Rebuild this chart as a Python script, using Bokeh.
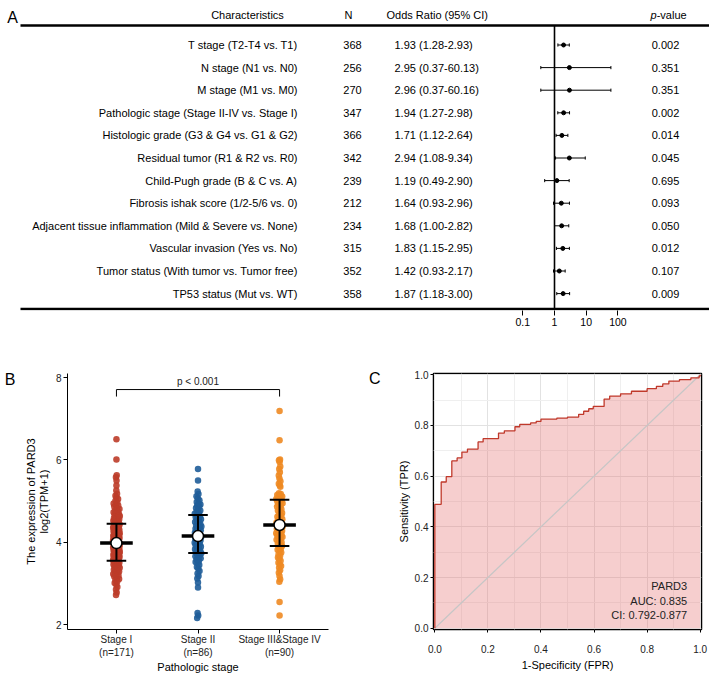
from bokeh.plotting import figure
from bokeh.models import (Range1d, LogScale, LogAxis, LinearAxis, FixedTicker,
                          NumeralTickFormatter)
from bokeh.layouts import column, row
from bokeh.embed import file_html
from bokeh.resources import INLINE
from bokeh.core.properties import value

FONT = "Liberation Sans"
FV = value(FONT)

# ---------------- Panel A data ----------------
characteristics = [
    "T stage (T2-T4 vs. T1)",
    "N stage (N1 vs. N0)",
    "M stage (M1 vs. M0)",
    "Pathologic stage (Stage II-IV vs. Stage I)",
    "Histologic grade (G3 & G4 vs. G1 & G2)",
    "Residual tumor (R1 & R2 vs. R0)",
    "Child-Pugh grade (B & C vs. A)",
    "Fibrosis ishak score (1/2-5/6 vs. 0)",
    "Adjacent tissue inflammation (Mild & Severe vs. None)",
    "Vascular invasion (Yes vs. No)",
    "Tumor status (With tumor vs. Tumor free)",
    "TP53 status (Mut vs. WT)",
]
n_values = [368, 256, 270, 347, 366, 342, 239, 212, 234, 315, 352, 358]
or_est = [1.93, 2.95, 2.96, 1.94, 1.71, 2.94, 1.19, 1.64, 1.68, 1.83, 1.42, 1.87]
or_low = [1.28, 0.37, 0.37, 1.27, 1.12, 1.08, 0.49, 0.93, 1.00, 1.15, 0.93, 1.18]
or_high = [2.93, 60.13, 60.16, 2.98, 2.64, 9.34, 2.90, 2.96, 2.82, 2.95, 2.17, 3.00]
p_values = ["0.002", "0.351", "0.351", "0.002", "0.014", "0.045",
            "0.695", "0.093", "0.050", "0.012", "0.107", "0.009"]
or_ticks = [0.1, 1, 10, 100]

# ---------------- Panel B data ----------------
group_names = ["Stage I", "Stage II", "Stage III&Stage IV"]
group_n = [171, 86, 90]
stage1 = [
    2.72, 2.78, 2.85, 2.91,
    2.97, 3.01, 3.05, 3.08, 3.11, 3.14, 3.17, 3.19,
    3.21, 3.23, 3.25, 3.27, 3.29, 3.31, 3.33, 3.35, 3.36, 3.38, 3.40, 3.41, 3.43, 3.44,
    3.46, 3.47, 3.48, 3.50, 3.51, 3.52, 3.53, 3.55, 3.56, 3.57, 3.58, 3.59, 3.60, 3.62,
    3.63, 3.64, 3.65, 3.66, 3.67, 3.68, 3.69, 3.69,
    3.70, 3.71, 3.72, 3.73, 3.73, 3.74, 3.75, 3.76, 3.77, 3.78, 3.78, 3.79, 3.80, 3.81,
    3.82, 3.83, 3.83, 3.84, 3.85, 3.86, 3.87, 3.88, 3.88, 3.89, 3.90, 3.91, 3.92, 3.93,
    3.93, 3.94,
    3.95, 3.96, 3.97, 3.98, 3.98, 3.99, 4.00, 4.01, 4.02, 4.03, 4.03, 4.04, 4.05, 4.06,
    4.07, 4.08, 4.08, 4.09, 4.10, 4.11, 4.12, 4.13, 4.13, 4.14, 4.15, 4.16, 4.17, 4.18,
    4.18, 4.19,
    4.20, 4.21, 4.22, 4.23, 4.24, 4.25, 4.26, 4.27, 4.28, 4.29, 4.30, 4.31, 4.32, 4.33,
    4.34, 4.35, 4.36, 4.37, 4.38, 4.39, 4.40, 4.41, 4.42, 4.44,
    4.46, 4.47, 4.49, 4.50, 4.52, 4.53, 4.55, 4.56, 4.58, 4.59, 4.61, 4.62, 4.64, 4.65,
    4.67, 4.69,
    4.71, 4.73, 4.76, 4.78, 4.81, 4.84, 4.86, 4.89, 4.91, 4.94,
    4.97, 5.01, 5.05, 5.09, 5.13, 5.18,
    5.26, 5.38, 5.50, 5.58, 5.63, 6.01, 6.50,
]
stage2 = [
    2.16, 2.22, 2.28, 2.90, 3.02,
    3.12, 3.18, 3.24, 3.30, 3.36, 3.40, 3.45, 3.49,
    3.52, 3.55, 3.58, 3.61, 3.63, 3.66, 3.68, 3.71, 3.73, 3.75, 3.77, 3.79,
    3.81, 3.83, 3.85, 3.87, 3.89, 3.91, 3.93, 3.95, 3.97, 3.99, 4.01, 4.03, 4.05, 4.06,
    4.08, 4.09,
    4.11, 4.13, 4.15, 4.17, 4.19, 4.21, 4.23, 4.25, 4.27, 4.29, 4.31, 4.33, 4.35, 4.36,
    4.38, 4.39,
    4.41, 4.44, 4.46, 4.49, 4.51, 4.54, 4.56, 4.59, 4.61, 4.64, 4.66, 4.69,
    4.71, 4.74, 4.77, 4.80, 4.83, 4.86, 4.89, 4.92, 4.95, 4.98,
    5.02, 5.07, 5.12, 5.17, 5.23, 5.50, 5.78,
]
stage3 = [
    2.22, 2.55,
    3.04, 3.10, 3.18, 3.26, 3.32, 3.38,
    3.42, 3.46, 3.50, 3.55, 3.59, 3.63, 3.67, 3.71, 3.75, 3.79,
    3.82, 3.85, 3.88, 3.91, 3.94, 3.97, 4.00, 4.03, 4.06, 4.09, 4.11, 4.13, 4.15, 4.17,
    4.19, 4.20,
    4.22, 4.24, 4.26, 4.28, 4.30, 4.32, 4.34, 4.36, 4.38, 4.40, 4.42, 4.44, 4.46, 4.48,
    4.51, 4.54, 4.56, 4.58,
    4.62, 4.65, 4.68, 4.71, 4.74, 4.77, 4.80, 4.83, 4.86, 4.89, 4.92, 4.95, 4.97, 4.99,
    5.01, 5.03, 5.05, 5.07, 5.09, 5.11, 5.13, 5.15, 5.17, 5.19,
    5.35, 5.38, 5.42, 5.48, 5.55, 5.62, 5.70, 5.78, 5.84,
    5.95, 5.99, 6.01, 6.48, 7.19,
]
group_means = [3.98, 4.15, 4.42]
group_sd_low = [3.55, 3.74, 3.91]
group_sd_high = [4.45, 4.66, 5.03]
group_colors = ["#BC3C29", "#1F5D99", "#EE8A22"]
p_label = "p < 0.001"

# ---------------- Panel C data ----------------
roc_fpr = [0.0, 0.0, 0.024, 0.043, 0.064, 0.084, 0.102, 0.123, 0.163, 0.182,
           0.240, 0.262, 0.302, 0.320, 0.361, 0.382, 0.400, 0.460, 0.500, 0.542,
           0.561, 0.580, 0.597, 0.638, 0.659, 0.700, 0.741, 0.800, 0.835, 0.859,
           0.882, 0.922, 0.965, 0.996, 1.0]
roc_tpr = [0.0, 0.489, 0.577, 0.598, 0.660, 0.672, 0.695, 0.707, 0.735, 0.748,
           0.770, 0.779, 0.795, 0.804, 0.810, 0.816, 0.825, 0.829, 0.833, 0.844,
           0.856, 0.866, 0.875, 0.904, 0.916, 0.925, 0.935, 0.945, 0.954, 0.964,
           0.975, 0.981, 0.988, 0.995, 1.0]
roc_text = ["PARD3", "AUC: 0.835", "CI: 0.792-0.877"]
unit_ticks = [0.0, 0.2, 0.4, 0.6, 0.8, 1.0]
unit_minor = [0.1, 0.3, 0.5, 0.7, 0.9]

# ======================= Panel A =======================
ROW0, ROWH = 44.5, 22.6          # pixel layout of the table rows


def ry(py):
    return (py - ROW0) / ROWH


rows = list(range(len(characteristics)))
pa = figure(width=709, height=330, x_range=Range1d(0, 709),
            y_range=Range1d(ry(310), ry(0)),
            x_axis_location=None, y_axis_location=None,
            output_backend="svg", toolbar_location=None,
            min_border_left=0, min_border_right=0, min_border_top=0,
            min_border_bottom=20, outline_line_color=None)
pa.grid.visible = False
pa.extra_x_ranges = {"or": Range1d(10 ** ((0 - 554) / 31.7), 10 ** ((709 - 554) / 31.7))}
pa.extra_x_scales = {"or": LogScale()}

txt = dict(text_font=FV, text_font_size="11px", text_color="black",
           text_baseline="middle")
HEAD_Y = ry(14)
TOP_Y = ry(25)
BOT_Y = ry(308.5)

pa.text(x=[12], y=[ry(16.5)], text=["A"], text_font=FV, text_font_size="16px",
        text_align="center", text_baseline="alphabetic", text_color="black")
pa.text(x=[247], y=[HEAD_Y], text=["Characteristics"], text_align="center", **txt)
pa.text(x=[348], y=[HEAD_Y], text=["N"], text_align="center", **txt)
pa.text(x=[386], y=[HEAD_Y], text=["Odds Ratio (95% CI)"], text_align="left", **txt)
pa.text(x=[650], y=[HEAD_Y], text=["p"], text_align="left", text_font_style="italic", **txt)
pa.text(x=[656.2], y=[HEAD_Y], text=["-value"], text_align="left", **txt)

pa.text(x=297, y=rows, text=characteristics, text_align="right", **txt)
pa.text(x=352, y=rows, text=[str(n) for n in n_values], text_align="center", **txt)
pa.text(x=394, y=rows,
        text=[f"{e:.2f} ({l:.2f}-{h:.2f})" for e, l, h in zip(or_est, or_low, or_high)],
        text_align="left", **txt)
pa.text(x=665, y=rows, text=p_values, text_align="center", **txt)

pa.segment(x0=[20, 20], x1=[709, 709], y0=[TOP_Y, BOT_Y], y1=[TOP_Y, BOT_Y],
           line_color="black", line_width=2.5)
pa.segment(x0=[1], x1=[1], y0=[TOP_Y], y1=[BOT_Y], x_range_name="or",
           line_color="black", line_width=1.6)
pa.segment(x0=or_low, x1=or_high, y0=rows, y1=rows, x_range_name="or",
           line_color="black", line_width=1)
cap = 0.07
pa.segment(x0=or_low, x1=or_low, y0=[r - cap for r in rows], y1=[r + cap for r in rows],
           x_range_name="or", line_color="black", line_width=1)
pa.segment(x0=or_high, x1=or_high, y0=[r - cap for r in rows], y1=[r + cap for r in rows],
           x_range_name="or", line_color="black", line_width=1)
pa.scatter(x=or_est, y=rows, x_range_name="or", marker="circle", size=4,
           color="black")

lax = LogAxis(x_range_name="or",
              ticker=FixedTicker(ticks=or_ticks, minor_ticks=[]),
              formatter=NumeralTickFormatter(format="0.[0]"),
              axis_line_color=None, major_tick_line_color="black",
              major_tick_out=5, major_tick_in=0, minor_tick_line_color=None,
              major_label_standoff=2, major_label_text_font=FONT,
              major_label_text_font_size="10.5px", major_label_text_color="black")
pa.add_layout(lax, "below")


def panel_letter(fig, letter, y_pos, standoff):
    """Panel letter drawn as the single label of an extra, line-less left axis."""
    ax = LinearAxis(ticker=FixedTicker(ticks=[y_pos], minor_ticks=[]),
                    major_label_overrides={y_pos: letter},
                    axis_line_color=None, major_tick_line_color=None,
                    minor_tick_line_color=None, major_label_standoff=standoff,
                    major_label_text_font=FONT, major_label_text_font_size="16px",
                    major_label_text_color="black")
    fig.add_layout(ax, "left")


# ======================= Panel B =======================
BOTTOM = 44
pb = figure(width=354, height=345, x_range=Range1d(0.4, 3.6), y_range=Range1d(1.88, 8.1),
            output_backend="svg", toolbar_location=None,
            min_border_left=67, min_border_right=26, min_border_top=43,
            min_border_bottom=BOTTOM, outline_line_color=None)
pb.grid.visible = False


def swarm_offsets(vals, max_half=0.042):
    offs = []
    for k, v in enumerate(vals):
        dens = sum(1 for w in vals if abs(w - v) < 0.12)
        half = max_half * min(1.0, (dens - 1) / 8.0)
        frac = (k * 0.6180339887) % 1.0
        offs.append((frac - 0.5) * 2 * half)
    return offs


for i, vals in enumerate([stage1, stage2, stage3]):
    cx = i + 1
    offs = swarm_offsets(vals)
    pb.scatter(x=[cx + o for o in offs], y=vals, size=6.5, marker="circle",
               fill_color=group_colors[i], line_color=None, fill_alpha=0.9)

cats = [1, 2, 3]
pb.segment(x0=cats, x1=cats, y0=group_sd_low, y1=group_sd_high,
           line_color="black", line_width=2)
pb.segment(x0=[c - 0.12 for c in cats], x1=[c + 0.12 for c in cats],
           y0=group_sd_low, y1=group_sd_low, line_color="black", line_width=2)
pb.segment(x0=[c - 0.12 for c in cats], x1=[c + 0.12 for c in cats],
           y0=group_sd_high, y1=group_sd_high, line_color="black", line_width=2)
pb.segment(x0=[c - 0.2 for c in cats], x1=[c + 0.2 for c in cats],
           y0=group_means, y1=group_means, line_color="black", line_width=3.5)
pb.scatter(x=cats, y=group_means, size=11, marker="circle", fill_color="white",
           line_color="black", line_width=1.5)

# significance bracket
BR_Y, BR_DROP = 7.71, 7.54
pb.segment(x0=[1, 1, 3], x1=[3, 1, 3], y0=[BR_Y, BR_Y, BR_Y], y1=[BR_Y, BR_DROP, BR_DROP],
           line_color="black", line_width=1)
pb.text(x=[2], y=[BR_Y + 0.06], text=[p_label], text_align="center",
        text_baseline="bottom", text_font=FV, text_font_size="10px", text_color="#222222")

pb.xaxis.ticker = FixedTicker(ticks=cats, minor_ticks=[])
pb.xaxis.major_label_overrides = {c: f"{g}\n(n={n})" for c, g, n in zip(cats, group_names, group_n)}
pb.yaxis.ticker = FixedTicker(ticks=[2, 4, 6, 8], minor_ticks=[])
pb.xaxis.axis_label = "Pathologic stage"
pb.yaxis.axis_label = "The expression of PARD3\nlog2(TPM+1)"
for ax in (pb.xaxis[0], pb.yaxis[0]):
    ax.axis_line_color = "black"
    ax.axis_line_width = 1
    ax.major_tick_line_color = "black"
    ax.major_tick_out = 4
    ax.major_tick_in = 0
    ax.minor_tick_line_color = None
    ax.major_label_text_font = FONT
    ax.major_label_text_font_size = "10px"
    ax.major_label_text_color = "#222222"
    ax.major_label_standoff = 2
    ax.axis_label_text_font = FONT
    ax.axis_label_text_font_size = "11px"
    ax.axis_label_text_font_style = "normal"
    ax.axis_label_text_color = "black"
pb.xaxis.major_label_text_line_height = 1.2
pb.xaxis.major_label_standoff = 0
pb.xaxis.axis_label_standoff = 0
pb.yaxis.axis_label_standoff = 3
pb.yaxis.axis_label_text_line_height = 1.05
panel_letter(pb, "B", 7.955, 1)

# ======================= Panel C =======================
pc = figure(width=355, height=345, x_range=Range1d(-0.005, 1.005),
            y_range=Range1d(-0.005, 1.005),
            output_backend="svg", toolbar_location=None,
            min_border_left=79, min_border_right=8, min_border_top=43,
            min_border_bottom=BOTTOM, outline_line_color="black", outline_line_width=1.5)

for g in (pc.xgrid[0], pc.ygrid[0]):
    g.ticker = FixedTicker(ticks=unit_ticks, minor_ticks=unit_minor)
    g.grid_line_color = "#E2E2E2"
    g.grid_line_width = 1
    g.minor_grid_line_color = "#EFEFEF"
    g.minor_grid_line_width = 1

pc.varea_step(x=roc_fpr, y1=0, y2=roc_tpr, step_mode="after",
              fill_color="#E57373", fill_alpha=0.35)
pc.line(x=[0, 1], y=[0, 1], line_color="#C6C6C6", line_width=1.2)
pc.step(x=roc_fpr, y=roc_tpr, mode="after", line_color="#C0392B", line_width=1.3)
pc.text(x=0.951, y=[0.165, 0.108, 0.051], text=roc_text, text_align="right",
        text_baseline="middle", text_font=FV, text_font_size="11px", text_color="#222222")

pc.xaxis.axis_label = "1-Specificity (FPR)"
pc.yaxis.axis_label = "Sensitivity (TPR)"
for ax in (pc.xaxis[0], pc.yaxis[0]):
    ax.ticker = FixedTicker(ticks=unit_ticks, minor_ticks=[])
    ax.formatter = NumeralTickFormatter(format="0.0")
    ax.axis_line_color = None
    ax.major_tick_line_color = "black"
    ax.major_tick_out = 3
    ax.major_tick_in = 0
    ax.minor_tick_line_color = None
    ax.major_label_text_font = FONT
    ax.major_label_text_font_size = "10px"
    ax.major_label_text_color = "#222222"
    ax.major_label_standoff = 2
    ax.axis_label_text_font = FONT
    ax.axis_label_text_font_size = "11px"
    ax.axis_label_text_font_style = "normal"
    ax.axis_label_text_color = "black"
    ax.axis_label_standoff = 2
pc.xaxis.major_label_standoff = 12
pc.xaxis.axis_label_standoff = 3
panel_letter(pc, "C", 0.985, 8)

layout = column(pa, row(pb, pc))
open("out.html", "w").write(file_html(layout, INLINE))
